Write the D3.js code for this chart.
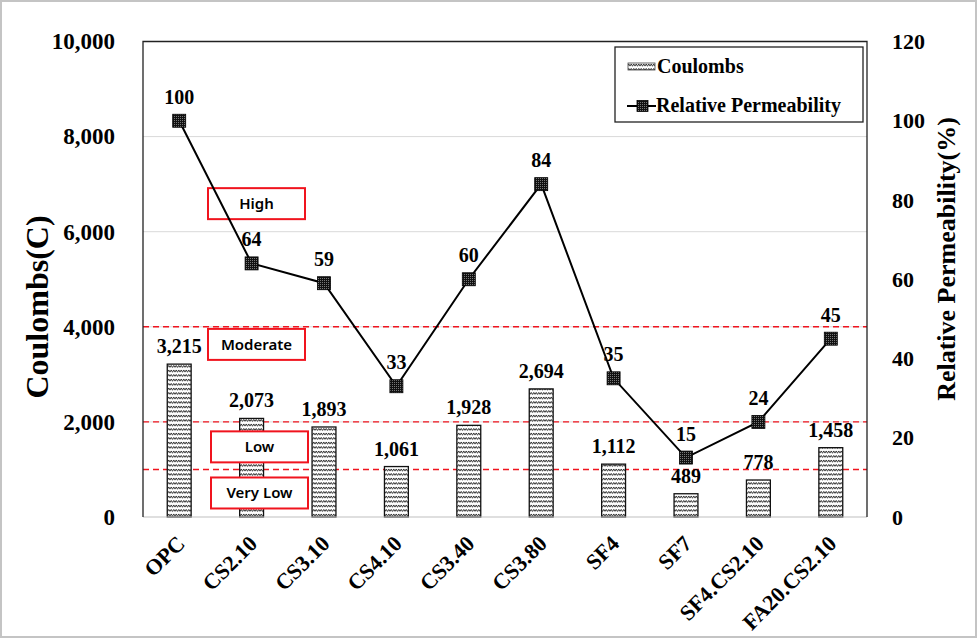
<!DOCTYPE html>
<html><head><meta charset="utf-8">
<script src="https://cdn.jsdelivr.net/npm/d3@7"></script>
<style>
body{margin:0;background:#fff;}
svg{display:block;}
</style></head>
<body>
<script>
const categories = ["OPC","CS2.10","CS3.10","CS4.10","CS3.40","CS3.80","SF4","SF7","SF4.CS2.10","FA20.CS2.10"];
const coulombs = [3215,2073,1893,1061,1928,2694,1112,489,778,1458];
const relPerm = [100,64,59,33,60,84,35,15,24,45];
const leftTicks = [0,2000,4000,6000,8000,10000];
const rightTicks = [0,20,40,60,80,100,120];
const thresholds = [4000,2000,1000];
const zones = [
  {label:"High", value:6590, dx:0},
  {label:"Moderate", value:3630, dx:0},
  {label:"Low", value:1475, dx:3},
  {label:"Very Low", value:505, dx:3}
];

const W=978,H=639;
const m={l:143,r:867,t:41.5,b:517};
const serif="'Liberation Serif','Times New Roman',serif";
const svg=d3.select("body").append("svg").attr("width",W).attr("height",H);
const defs=svg.append("defs");
// bar hatch pattern
const hp=defs.append("pattern").attr("id","hatch").attr("patternUnits","userSpaceOnUse").attr("width",5).attr("height",4.5);
hp.append("rect").attr("width",5).attr("height",4.5).attr("fill","#fff");
hp.append("path").attr("d","M0,3 L1.25,1 L2.5,3 L3.75,1 L5,3").attr("stroke","#111").attr("stroke-width",0.9).attr("fill","none");
// marker pattern
const mp=defs.append("pattern").attr("id","dots").attr("patternUnits","userSpaceOnUse").attr("width",2).attr("height",2);
mp.append("rect").attr("width",2).attr("height",2).attr("fill","#111");
mp.append("rect").attr("width",1).attr("height",1).attr("fill","#777");

// outer border
svg.append("rect").attr("x",1).attr("y",1).attr("width",W-3).attr("height",H-3).attr("fill","none").attr("stroke","#c4c4c4").attr("stroke-width",2);

const x=d3.scaleBand().domain(categories).range([m.l,m.r]).padding(0);
const y=d3.scaleLinear().domain([0,10000]).range([m.b,m.t]);
const y2=d3.scaleLinear().domain([0,120]).range([m.b,m.t]);

// gridlines
svg.append("g").selectAll("line").data(leftTicks.slice(1,5)).join("line")
  .attr("x1",m.l).attr("x2",m.r).attr("y1",d=>y(d)).attr("y2",d=>y(d))
  .attr("stroke","#d9d9d9").attr("stroke-width",1);

// threshold dashed lines
svg.append("g").selectAll("line").data(thresholds).join("line")
  .attr("x1",m.l).attr("x2",m.r).attr("y1",d=>y(d)).attr("y2",d=>y(d))
  .attr("stroke","#f0141e").attr("stroke-width",1.4).attr("stroke-dasharray","6,4");

// bars
const bw=x.bandwidth()*0.33;
svg.append("g").selectAll("rect").data(coulombs).join("rect")
  .attr("x",(d,i)=>x(categories[i])+x.bandwidth()/2-bw/2)
  .attr("y",d=>y(d)).attr("width",bw).attr("height",d=>m.b-y(d))
  .attr("fill","url(#hatch)").attr("stroke","#111").attr("stroke-width",1.3);

// bar labels
svg.append("g").selectAll("text").data(coulombs).join("text")
  .attr("x",(d,i)=>x(categories[i])+x.bandwidth()/2).attr("y",d=>y(d)-11)
  .attr("text-anchor","middle").attr("font-family",serif).attr("font-weight","bold").attr("font-size",20)
  .text(d=>d3.format(",")(d));

// axes frame
svg.append("line").attr("x1",m.l).attr("x2",m.r).attr("y1",m.b).attr("y2",m.b).attr("stroke","#bfbfbf").attr("stroke-width",1.2);
svg.append("path").attr("d",`M${m.l},${m.b}V${m.t}H${m.r}V${m.b}`).attr("fill","none").attr("stroke","#222").attr("stroke-width",1.3);

// zone boxes
const zg=svg.append("g").selectAll("g").data(zones).join("g")
  .attr("transform",d=>`translate(${m.l+65+d.dx},${y(d.value)-15.5})`);
zg.append("rect").attr("width",97).attr("height",31).attr("fill","#fff").attr("stroke","#f0141e").attr("stroke-width",2);
zg.append("text").attr("x",48.5).attr("y",21).attr("text-anchor","middle")
  .attr("font-family","'Noto Sans','Open Sans',sans-serif").attr("font-size",15).attr("font-weight",600).text(d=>d.label);

// line
const line=d3.line().x((d,i)=>x(categories[i])+x.bandwidth()/2).y(d=>y2(d));
svg.append("path").datum(relPerm).attr("d",line).attr("fill","none").attr("stroke","#000").attr("stroke-width",2);
const ms=13;
svg.append("g").selectAll("rect").data(relPerm).join("rect")
  .attr("x",(d,i)=>x(categories[i])+x.bandwidth()/2-ms/2).attr("y",d=>y2(d)-ms/2)
  .attr("width",ms).attr("height",ms).attr("fill","url(#dots)").attr("stroke","#000").attr("stroke-width",0.8);
svg.append("g").selectAll("text").data(relPerm).join("text")
  .attr("x",(d,i)=>x(categories[i])+x.bandwidth()/2).attr("y",d=>y2(d)-17)
  .attr("text-anchor","middle").attr("font-family",serif).attr("font-weight","bold").attr("font-size",20)
  .text(d=>d);

// left axis
const la=svg.append("g").attr("transform",`translate(${m.l},0)`)
  .call(d3.axisLeft(y).tickValues(leftTicks).tickSize(0).tickPadding(28).tickFormat(d3.format(",")));
la.select(".domain").remove();
la.selectAll("text").attr("font-family",serif).attr("font-weight","bold").attr("font-size",23).attr("fill","#000");
// right axis
const ra=svg.append("g").attr("transform",`translate(${m.r},0)`)
  .call(d3.axisRight(y2).tickValues(rightTicks).tickSize(0).tickPadding(25));
ra.select(".domain").remove();
ra.selectAll("text").attr("font-family",serif).attr("font-weight","bold").attr("font-size",22).attr("fill","#000");

// category labels
svg.append("g").selectAll("text").data(categories).join("text")
  .attr("transform",d=>`translate(${x(d)+x.bandwidth()/2+7},545) rotate(-45)`)
  .attr("text-anchor","end").attr("font-family",serif).attr("font-weight","bold").attr("font-size",22)
  .text(d=>d);

// axis titles
svg.append("text").attr("transform","translate(48,307) rotate(-90)").attr("text-anchor","middle")
  .attr("font-family",serif).attr("font-weight","bold").attr("font-size",32).text("Coulombs(C)");
svg.append("text").attr("transform","translate(955,259) rotate(-90)").attr("text-anchor","middle")
  .attr("font-family",serif).attr("font-weight","bold").attr("font-size",26).text("Relative Permeability(%)");

// legend
const lg=svg.append("g");
lg.append("rect").attr("x",615).attr("y",47).attr("width",248).attr("height",75).attr("fill","#fff").attr("stroke","#222").attr("stroke-width",1.3);
lg.append("rect").attr("x",628).attr("y",63).attr("width",27).attr("height",7).attr("fill","url(#hatch)").attr("stroke","#444").attr("stroke-width",0.8);
lg.append("text").attr("x",657).attr("y",73).attr("font-family",serif).attr("font-weight","bold").attr("font-size",20).text("Coulombs");
lg.append("line").attr("x1",627).attr("x2",656).attr("y1",106).attr("y2",106).attr("stroke","#000").attr("stroke-width",2);
lg.append("rect").attr("x",637).attr("y",100.5).attr("width",11).attr("height",11).attr("fill","url(#dots)").attr("stroke","#000").attr("stroke-width",0.8);
lg.append("text").attr("x",656).attr("y",112).attr("font-family",serif).attr("font-weight","bold").attr("font-size",20).text("Relative Permeability");
</script>
</body></html>
